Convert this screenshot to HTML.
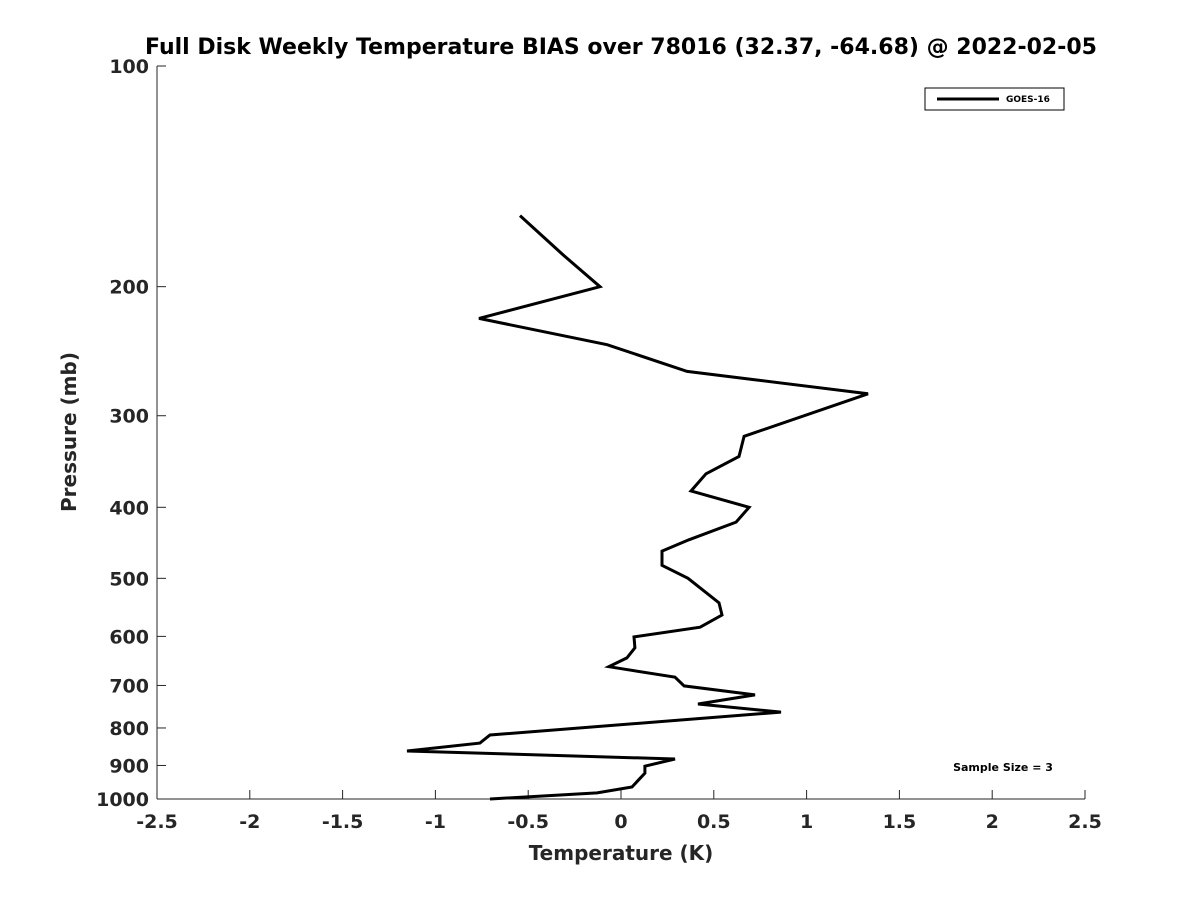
<!DOCTYPE html>
<html><head><meta charset="utf-8"><style>
body{margin:0;background:#fff;width:1200px;height:900px;overflow:hidden}
svg text{font-family:"DejaVu Sans","Liberation Sans",sans-serif;font-weight:bold;fill:#262626}
</style></head><body>
<svg id="chart" width="1200" height="900">
<text x="621" y="54" text-anchor="middle" font-size="22" style="fill:#000">Full Disk Weekly Temperature BIAS over 78016 (32.37, -64.68) @ 2022-02-05</text>
<g id="axes"></g>
<g id="series"></g>
<text x="621" y="860" text-anchor="middle" font-size="20">Temperature (K)</text>
<text transform="translate(76,432) rotate(-90)" text-anchor="middle" font-size="20">Pressure (mb)</text>
<g>
<rect x="925" y="88" width="139" height="22" fill="#fff" stroke="#000" stroke-width="1"/>
<line x1="937" y1="99" x2="999" y2="99" stroke="#000" stroke-width="3"/>
<text x="1006" y="102" font-size="9" style="fill:#000">GOES-16</text>
</g>
<text x="1003" y="771" text-anchor="middle" font-size="11" style="fill:#000">Sample Size = 3</text>
</svg>
<script>
const xTicks=[-2.5,-2,-1.5,-1,-0.5,0,0.5,1,1.5,2,2.5];
const xTickLabels=["-2.5","-2","-1.5","-1","-0.5","0","0.5","1","1.5","2","2.5"];
const yTicks=[100,200,300,400,500,600,700,800,900,1000];
const yTickLabels=["100","200","300","400","500","600","700","800","900","1000"];
const pressures=[160,181,200,221,240,261,280,320,341,360,380,400,419,443,459,480,500,540,561,583,601,622,642,660,682,701,721,742,761,818,839,860,882,902,922,963,981,1000];
const temps=[-0.544,-0.312,-0.113,-0.765,-0.075,0.356,1.331,0.663,0.636,0.458,0.377,0.690,0.620,0.366,0.221,0.221,0.361,0.528,0.544,0.426,0.070,0.075,0.032,-0.065,0.291,0.340,0.722,0.415,0.862,-0.706,-0.760,-1.153,0.291,0.129,0.129,0.059,-0.129,-0.706];
const L=157,R=1085,T=66,B=799;
const xs=v=>L+(v+2.5)/5*(R-L);
const ys=p=>T+(Math.log10(p)-2)*(B-T);
const NS="http://www.w3.org/2000/svg";
const ax=document.getElementById('axes');
function mk(tag,attrs,parent){const e=document.createElementNS(NS,tag);for(const k in attrs)e.setAttribute(k,attrs[k]);parent.appendChild(e);return e;}
let e=mk('line',{x1:L,y1:B,x2:R,y2:B,stroke:'#262626','stroke-width':1},ax);


e=mk('line',{x1:L,y1:T,x2:L,y2:B,stroke:'#262626','stroke-width':1},ax);


xTicks.forEach((v,i)=>{const x=xs(v);
 let t=mk('line',{x1:x,y1:B,x2:x,y2:B-9,stroke:'#262626'},ax);
 
 
 let l=mk('text',{x:x,y:B+29,'text-anchor':'middle','font-size':19},ax);l.textContent=xTickLabels[i];
 
 
});
yTicks.forEach((p,i)=>{const y=ys(p);
 let t=mk('line',{x1:L,y1:y,x2:L+9,y2:y,stroke:'#262626'},ax);
 
 
 let l=mk('text',{x:L-8,y:y+7,'text-anchor':'end','font-size':19},ax);l.textContent=yTickLabels[i];
 
 
});
const pts=pressures.map((p,i)=>xs(temps[i]).toFixed(1)+','+ys(p).toFixed(1)).join(' ');
const pl=mk('polyline',{points:pts,fill:'none',stroke:'#000','stroke-width':3,'stroke-linejoin':'miter'},document.getElementById('series'));


</script>
</body></html>
